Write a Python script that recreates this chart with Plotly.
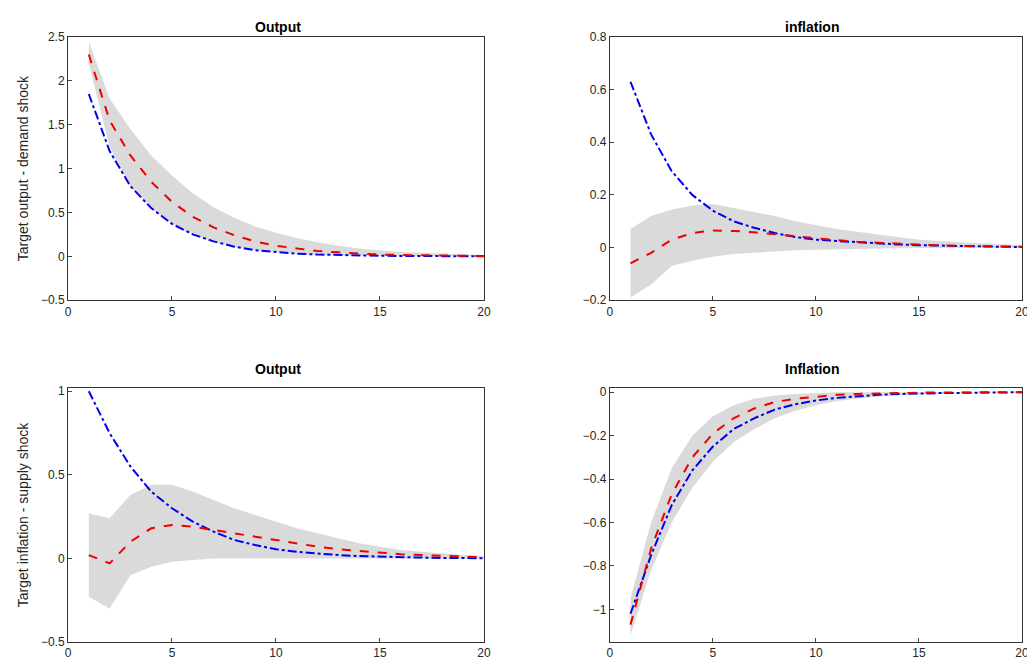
import plotly.graph_objects as go
from plotly.subplots import make_subplots

periods = list(range(1, 21))

# demand shock - output
dy_red = [2.3, 1.55, 1.15, 0.85, 0.62, 0.45, 0.33, 0.24, 0.17, 0.12, 0.09, 0.06, 0.045, 0.03, 0.02, 0.015, 0.01, 0.008, 0.005, 0.003]
dy_blue = [1.85, 1.2, 0.8, 0.55, 0.37, 0.25, 0.17, 0.11, 0.07, 0.05, 0.03, 0.02, 0.013, 0.009, 0.006, 0.004, 0.003, 0.002, 0.001, 0.0]
dy_up = [2.45, 1.8, 1.45, 1.15, 0.92, 0.72, 0.56, 0.44, 0.34, 0.27, 0.21, 0.16, 0.12, 0.09, 0.07, 0.05, 0.04, 0.03, 0.02, 0.015]
dy_lo = [2.2, 1.25, 0.8, 0.55, 0.37, 0.25, 0.17, 0.11, 0.07, 0.05, 0.03, 0.02, 0.01, 0.005, 0.0, 0.0, 0.0, 0.0, 0.0, 0.0]

# demand shock - inflation
dp_red = [-0.06, -0.02, 0.03, 0.055, 0.065, 0.063, 0.058, 0.05, 0.042, 0.035, 0.028, 0.022, 0.018, 0.014, 0.011, 0.008, 0.006, 0.005, 0.004, 0.003]
dp_blue = [0.63, 0.43, 0.29, 0.2, 0.14, 0.1, 0.075, 0.055, 0.04, 0.03, 0.025, 0.02, 0.015, 0.012, 0.009, 0.007, 0.005, 0.004, 0.003, 0.002]
dp_up = [0.07, 0.12, 0.145, 0.16, 0.165, 0.15, 0.135, 0.12, 0.1, 0.085, 0.07, 0.06, 0.05, 0.04, 0.03, 0.025, 0.02, 0.015, 0.012, 0.01]
dp_lo = [-0.19, -0.14, -0.07, -0.05, -0.035, -0.025, -0.02, -0.015, -0.01, -0.008, -0.006, -0.005, -0.004, -0.003, -0.002, -0.002, -0.001, -0.001, -0.001, -0.001]

# supply shock - output
sy_red = [0.02, -0.03, 0.1, 0.18, 0.2, 0.19, 0.17, 0.15, 0.13, 0.11, 0.09, 0.07, 0.055, 0.045, 0.035, 0.025, 0.02, 0.015, 0.01, 0.007]
sy_blue = [1.0, 0.75, 0.55, 0.4, 0.3, 0.22, 0.16, 0.11, 0.08, 0.055, 0.04, 0.028, 0.02, 0.014, 0.01, 0.007, 0.005, 0.003, 0.002, 0.001]
sy_up = [0.27, 0.24, 0.38, 0.44, 0.44, 0.4, 0.35, 0.3, 0.26, 0.22, 0.18, 0.15, 0.12, 0.09, 0.07, 0.05, 0.04, 0.03, 0.02, 0.015]
sy_lo = [-0.23, -0.3, -0.1, -0.05, -0.02, -0.01, 0.0, 0.0, 0.0, 0.0, 0.0, 0.0, 0.0, 0.0, 0.0, 0.0, 0.0, 0.0, 0.0, 0.0]

# supply shock - inflation
sp_red = [-1.07, -0.72, -0.47, -0.3, -0.19, -0.12, -0.075, -0.045, -0.03, -0.02, -0.012, -0.008, -0.005, -0.003, -0.002, -0.001, 0.0, 0.0, 0.0, 0.0]
sp_blue = [-1.02, -0.75, -0.52, -0.36, -0.25, -0.17, -0.12, -0.08, -0.055, -0.038, -0.026, -0.018, -0.012, -0.008, -0.005, -0.004, -0.003, -0.002, -0.001, 0.0]
sp_up = [-0.95, -0.6, -0.35, -0.2, -0.11, -0.06, -0.03, -0.015, -0.008, -0.004, 0.0, 0.0, 0.0, 0.0, 0.0, 0.0, 0.0, 0.0, 0.0, 0.0]
sp_lo = [-1.12, -0.82, -0.6, -0.44, -0.32, -0.23, -0.17, -0.12, -0.085, -0.06, -0.04, -0.03, -0.02, -0.014, -0.01, -0.007, -0.005, -0.003, -0.002, -0.001]

titles = ["Output", "inflation", "Output", "Inflation"]

fig = make_subplots(rows=2, cols=2, subplot_titles=titles,
                    horizontal_spacing=0.12, vertical_spacing=0.13)

panels = [
    (1, 1, dy_red, dy_blue, dy_up, dy_lo),
    (1, 2, dp_red, dp_blue, dp_up, dp_lo),
    (2, 1, sy_red, sy_blue, sy_up, sy_lo),
    (2, 2, sp_red, sp_blue, sp_up, sp_lo),
]
for r, c, red, blue, up, lo in panels:
    fig.add_trace(go.Scatter(x=periods + periods[::-1], y=up + lo[::-1], fill='toself',
                             fillcolor='#dadada', line=dict(width=0), hoverinfo='skip'), row=r, col=c)
    fig.add_trace(go.Scatter(x=periods, y=blue, mode='lines',
                             line=dict(color='#0000ee', width=2, dash='dashdot')), row=r, col=c)
    fig.add_trace(go.Scatter(x=periods, y=red, mode='lines',
                             line=dict(color='#ee0000', width=2, dash='dash')), row=r, col=c)

fig.update_xaxes(range=[0, 20], dtick=5, showline=True, mirror=True, linecolor='#333',
                 ticks='inside', ticklen=4, showgrid=False, zeroline=False, automargin=False)
fig.update_yaxes(showline=True, mirror=True, linecolor='#333', ticks='inside', ticklen=4,
                 showgrid=False, zeroline=False, automargin=False)

fig.update_xaxes(domain=[0, 0.436], col=1)
fig.update_xaxes(domain=[0.568, 1], col=2)
fig.update_yaxes(domain=[0.565, 1], row=1)
fig.update_yaxes(domain=[0, 0.42], row=2)

fig.update_yaxes(range=[-0.5, 2.5], dtick=0.5, title_text="Target output - demand shock",
                 title_standoff=8, row=1, col=1)
fig.update_yaxes(range=[-0.2, 0.8], dtick=0.2, row=1, col=2)
fig.update_yaxes(range=[-0.5, 1.02], dtick=0.5, title_text="Target inflation - supply shock",
                 title_standoff=8, row=2, col=1)
fig.update_yaxes(range=[-1.15, 0.02], dtick=0.2, row=2, col=2)

fig.update_layout(
    width=1027, height=656, showlegend=False,
    plot_bgcolor='white', paper_bgcolor='white',
    margin=dict(l=60, r=13, t=29, b=22),
    font=dict(family='Liberation Sans, Arial', size=12, color='#262626'),
)
for a in fig.layout.annotations:
    a.font = dict(size=14, color='black', family='Liberation Sans, Arial')
    a.text = '<b>' + a.text + '</b>'

fig.write_html("out.html")
